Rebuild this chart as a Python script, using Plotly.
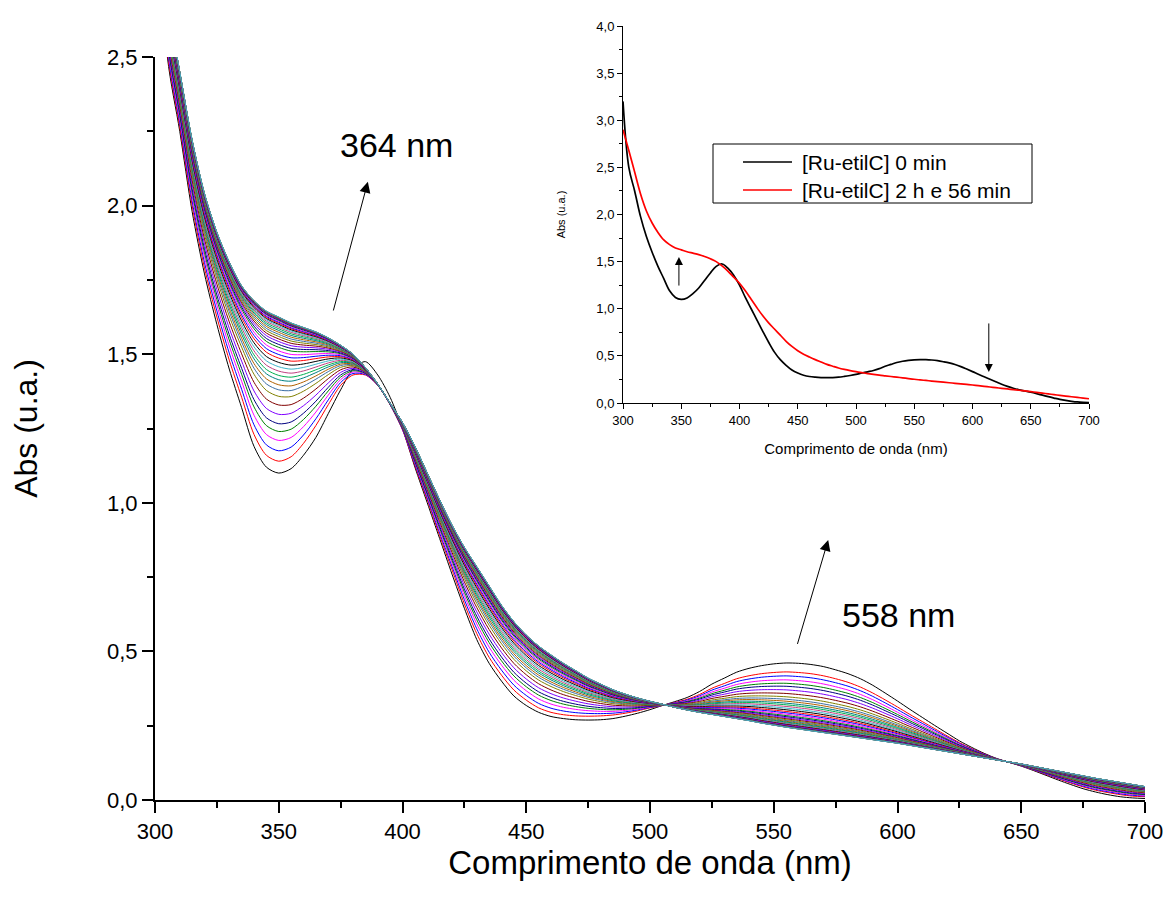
import plotly.graph_objects as go

# ---------------- data ----------------
wavelength_nm = list(range(300, 705, 5))

# spectrum at 0 min (black curve)
abs_0min = [3.20, 2.50, 2.25, 1.98, 1.77, 1.60, 1.45, 1.32, 1.19, 1.12,
            1.10, 1.115, 1.16, 1.22, 1.30, 1.38, 1.45, 1.475, 1.43, 1.355,
            1.25, 1.12, 1.00, 0.88, 0.76, 0.645, 0.54, 0.46, 0.40, 0.35,
            0.318, 0.295, 0.281, 0.274, 0.270, 0.269, 0.270, 0.274, 0.282, 0.292,
            0.304, 0.318, 0.331, 0.345, 0.365, 0.39, 0.41, 0.43, 0.443, 0.452,
            0.458, 0.461, 0.46, 0.456, 0.449, 0.438, 0.425, 0.408, 0.386, 0.36,
            0.333, 0.305, 0.278, 0.251, 0.225, 0.199, 0.177, 0.157, 0.140, 0.127,
            0.114, 0.099, 0.083, 0.067, 0.052, 0.038, 0.027, 0.018, 0.011, 0.007,
            0.005]

# second recorded spectrum (red curve just above the black one)
abs_second = [3.17, 2.515, 2.265, 2.00, 1.79, 1.625, 1.48, 1.355, 1.23, 1.16,
              1.14, 1.155, 1.20, 1.26, 1.33, 1.395, 1.43, 1.43, 1.395, 1.33,
              1.245, 1.125, 1.01, 0.89, 0.775, 0.66, 0.56, 0.48, 0.42, 0.37,
              0.336, 0.31, 0.295, 0.287, 0.283, 0.282, 0.283, 0.286, 0.292, 0.30,
              0.31, 0.318, 0.328, 0.339, 0.355, 0.376, 0.392, 0.408, 0.418, 0.425,
              0.429, 0.431, 0.429, 0.425, 0.418, 0.408, 0.396, 0.380, 0.360, 0.337,
              0.313, 0.288, 0.264, 0.240, 0.216, 0.193, 0.173, 0.155, 0.139, 0.127,
              0.115, 0.101, 0.086, 0.071, 0.057, 0.044, 0.033, 0.025, 0.018, 0.013,
              0.011]

# spectrum at 2 h e 56 min (last curve)
abs_final = [2.90, 2.68, 2.45, 2.22, 2.04, 1.91, 1.81, 1.73, 1.68, 1.645,
             1.625, 1.605, 1.59, 1.575, 1.555, 1.53, 1.50, 1.455, 1.40, 1.335,
             1.27, 1.19, 1.10, 1.01, 0.925, 0.85, 0.785, 0.72, 0.655, 0.60,
             0.555, 0.518, 0.488, 0.46, 0.435, 0.41, 0.39, 0.371, 0.356, 0.343,
             0.332, 0.322, 0.312, 0.303, 0.295, 0.288, 0.281, 0.274, 0.267, 0.259,
             0.252, 0.245, 0.239, 0.233, 0.227, 0.221, 0.215, 0.209, 0.203, 0.197,
             0.191, 0.184, 0.177, 0.170, 0.163, 0.156, 0.149, 0.142, 0.135, 0.128,
             0.121, 0.113, 0.105, 0.097, 0.089, 0.081, 0.073, 0.066, 0.059, 0.052,
             0.045]

# position of each later spectrum between the 2nd and the last one
# (read from the spacing of the curves at 350 nm and 558 nm)
progress = [0.0, 0.072, 0.144, 0.206, 0.26, 0.325, 0.39, 0.45, 0.495, 0.53,
            0.565, 0.595, 0.625, 0.655, 0.685, 0.715, 0.74, 0.765, 0.79, 0.81,
            0.83, 0.848, 0.865, 0.88, 0.894, 0.907, 0.919, 0.93, 0.94, 0.949,
            0.957, 0.964, 0.971, 0.977, 0.982, 0.986, 0.99, 0.993, 0.995, 0.997,
            0.998, 0.999, 0.9995, 1.0]

legend_names = ["[Ru-etilC] 0 min", "[Ru-etilC] 2 h e 56 min"]

colors = ["#000000", "#FF0000", "#0000FF", "#FF00FF", "#008000", "#000080",
          "#8000FF", "#800000", "#808000", "#3A6EA5", "#B06000", "#008080",
          "#00B050", "#C04080", "#3CB4C8"]

# ---------------- figure ----------------
fig = go.Figure()

spectra = [abs_0min] + [[a + g * (b - a) for a, b in zip(abs_second, abs_final)]
                        for g in progress]
for i, y in enumerate(spectra):
    fig.add_trace(go.Scatter(
        x=wavelength_nm, y=y, mode="lines",
        line=dict(color=colors[i % len(colors)], width=1, shape="spline", smoothing=0.8),
        showlegend=False, hoverinfo="skip", xaxis="x", yaxis="y"))

# inset
inset_colors = ["#000000", "#FF0000"]
for name, y, c in zip(legend_names, [abs_0min, abs_final], inset_colors):
    fig.add_trace(go.Scatter(x=wavelength_nm, y=y, mode="lines", name=name,
                             line=dict(color=c, width=1.7, shape="spline"),
                             showlegend=False, xaxis="x2", yaxis="y2"))

FONT = "Arial, Liberation Sans, sans-serif"
W, H = 1170, 909
ML, MR, MT, MB = 155, 25, 26, 109
PW = W - ML - MR  # 990
PH = H - MT - MB  # 774


def px_x(px):
    return (px - ML) / PW


def px_y(py):
    return (800 - py) / PH


main_top = px_y(57)

axis_common = dict(showline=True, linecolor="black", showgrid=False, zeroline=False,
                   ticks="outside", tickcolor="black", mirror=False, automargin=False)

fig.update_layout(
    width=W, height=H,
    margin=dict(l=ML, r=MR, t=MT, b=MB),
    paper_bgcolor="white", plot_bgcolor="white",
    separators=",.",
    showlegend=False,
    font=dict(family=FONT, color="black"),
    xaxis=dict(domain=[0, 1], range=[300, 700], tick0=300, dtick=50, anchor="y",
               ticklen=11, tickwidth=2, linewidth=2,
               minor=dict(dtick=25, ticklen=6, tickwidth=2, ticks="outside", tickcolor="black"),
               tickfont=dict(size=22),
               title=dict(text="Comprimento de onda (nm)", font=dict(size=33), standoff=6),
               **axis_common),
    yaxis=dict(domain=[0, main_top], range=[0, 2.5], tick0=0, dtick=0.5, tickformat=".1f",
               anchor="x", ticklen=11, tickwidth=2, linewidth=2,
               minor=dict(dtick=0.25, ticklen=6, tickwidth=2, ticks="outside", tickcolor="black"),
               tickfont=dict(size=22),
               title=dict(text="Abs (u.a.)", font=dict(size=32), standoff=60),
               **axis_common),
    xaxis2=dict(domain=[px_x(623), px_x(1089)], range=[300, 700], tick0=300,
                dtick=50, anchor="y2", ticklen=5, tickwidth=1, linewidth=1,
                minor=dict(dtick=25, ticklen=3, tickwidth=1, ticks="outside", tickcolor="black"),
                tickfont=dict(size=13),
                title=dict(text="Comprimento de onda (nm)", font=dict(size=15), standoff=16),
                **axis_common),
    yaxis2=dict(domain=[px_y(403), 1.0], range=[0, 4], tick0=0, dtick=0.5,
                tickformat=".1f", anchor="x2", ticklen=5, tickwidth=1, linewidth=1,
                minor=dict(dtick=0.25, ticklen=3, tickwidth=1, ticks="outside", tickcolor="black"),
                tickfont=dict(size=13),
                title=dict(text="Abs (u.a.)", font=dict(size=11), standoff=28),
                **axis_common),
)

# legend box of the inset
fig.add_shape(type="rect", xref="paper", yref="paper",
              x0=px_x(713), x1=px_x(1032), y0=px_y(203), y1=px_y(144),
              line=dict(color="black", width=1), fillcolor="white", layer="above")
for k, (name, c) in enumerate(zip(legend_names, inset_colors)):
    yy = px_y(162 + 28 * k)
    fig.add_shape(type="line", xref="paper", yref="paper",
                  x0=px_x(743), x1=px_x(792), y0=yy, y1=yy,
                  line=dict(color=c, width=1.5), layer="above")
    fig.add_annotation(x=px_x(800), y=yy, xref="paper", yref="paper", text=name,
                       showarrow=False, xanchor="left", yanchor="middle",
                       font=dict(size=21, family=FONT))

# labels and arrows (main)
fig.add_annotation(x=397.4, y=2.204, xref="x", yref="y", text="364 nm", showarrow=False,
                   font=dict(size=34, family=FONT))
fig.add_annotation(x=600.2, y=0.622, xref="x", yref="y", text="558 nm", showarrow=False,
                   font=dict(size=34, family=FONT))
arrow = dict(text="", showarrow=True, arrowhead=2, arrowsize=2.2, arrowwidth=1,
             arrowcolor="black", standoff=0, startstandoff=0)
fig.add_annotation(x=386.0, y=2.08, ax=371.9, ay=1.642, xref="x", yref="y",
                   axref="x", ayref="y", **arrow)
fig.add_annotation(x=572.0, y=0.875, ax=559.4, ay=0.52, xref="x", yref="y",
                   axref="x", ayref="y", **arrow)
# arrows (inset)
arrow2 = dict(arrow, arrowsize=1.6)
fig.add_annotation(x=348, y=1.55, ax=348, ay=1.23, xref="x2", yref="y2",
                   axref="x2", ayref="y2", **arrow2)
fig.add_annotation(x=614, y=0.33, ax=614, ay=0.86, xref="x2", yref="y2",
                   axref="x2", ayref="y2", **arrow2)

fig.write_html("out.html",
               config={"displayModeBar": False},
               post_script="document.body.style.margin='0';document.body.style.overflow='hidden';")
